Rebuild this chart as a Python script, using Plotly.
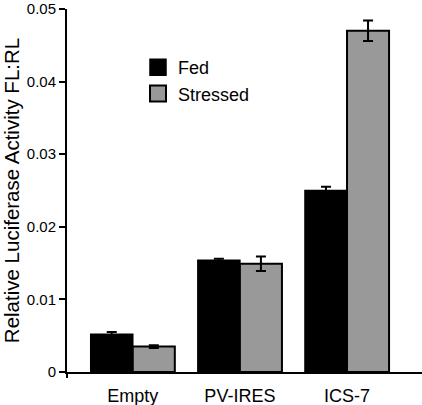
import plotly.graph_objects as go

categories = ["Empty", "PV-IRES", "ICS-7"]
fed_values = [0.0052, 0.0154, 0.0250]
fed_errors = [0.0003, 0.0002, 0.0005]
stressed_values = [0.0035, 0.0149, 0.0470]
stressed_errors = [0.0002, 0.0010, 0.0014]
y_ticks = [0, 0.01, 0.02, 0.03, 0.04, 0.05]
y_tick_labels = ["0", "0.01", "0.02", "0.03", "0.04", "0.05"]

FONT = "Liberation Sans, Arial, sans-serif"
GRAY = "#999999"

fig = go.Figure()
fig.add_trace(go.Bar(
    x=categories, y=fed_values, name="Fed", showlegend=False,
    marker=dict(color="black", line=dict(color="black", width=1.5)),
    error_y=dict(type="data", array=fed_errors, color="black", thickness=2, width=5),
))
fig.add_trace(go.Bar(
    x=categories, y=stressed_values, name="Stressed", showlegend=False,
    marker=dict(color=GRAY, line=dict(color="black", width=2)),
    error_y=dict(type="data", array=stressed_errors, color="black", thickness=2, width=5),
))
# legend entries
fig.add_trace(go.Scatter(
    x=[None], y=[None], mode="markers", name="Fed",
    marker=dict(symbol="square", size=16, color="black", line=dict(color="black", width=1.5)),
))
fig.add_trace(go.Scatter(
    x=[None], y=[None], mode="markers", name="Stressed",
    marker=dict(symbol="square", size=16, color=GRAY, line=dict(color="black", width=2)),
))

fig.update_layout(
    width=422, height=405,
    margin=dict(l=67, r=0, t=9, b=33),
    paper_bgcolor="white", plot_bgcolor="white",
    barmode="group", bargap=0.215, bargroupgap=0,
    font=dict(family=FONT, color="black"),
    legend=dict(x=0.2, y=0.89, xanchor="left", yanchor="top",
                font=dict(size=18, family=FONT), bgcolor="rgba(0,0,0,0)",
                itemsizing="trace"),
    xaxis=dict(
        range=[-0.614, 2.70], showline=True, linecolor="black", linewidth=2,
        ticks="", showgrid=False, zeroline=False,
        tickfont=dict(size=18, family=FONT), ticklabelstandoff=6,
    ),
    yaxis=dict(
        range=[0, 0.05], tickvals=y_ticks, ticktext=y_tick_labels,
        showline=True, linecolor="black", linewidth=2,
        ticks="outside", ticklen=6, tickwidth=2, tickcolor="black",
        showgrid=False, zeroline=False, ticklabeloverflow="allow",
        tickfont=dict(size=15, family=FONT),
        title=dict(text="Relative Luciferase Activity FL:RL",
                   font=dict(size=20.5, family=FONT), standoff=12),
        automargin=False,
    ),
)
fig.add_shape(type="line", xref="paper", yref="paper", x0=0, x1=0,
              ysizemode="pixel", yanchor=0, y0=0, y1=-6,
              line=dict(color="black", width=2))

fig.write_html("out.html", config={"displayModeBar": False},
               post_script="document.body.style.margin='0';")
